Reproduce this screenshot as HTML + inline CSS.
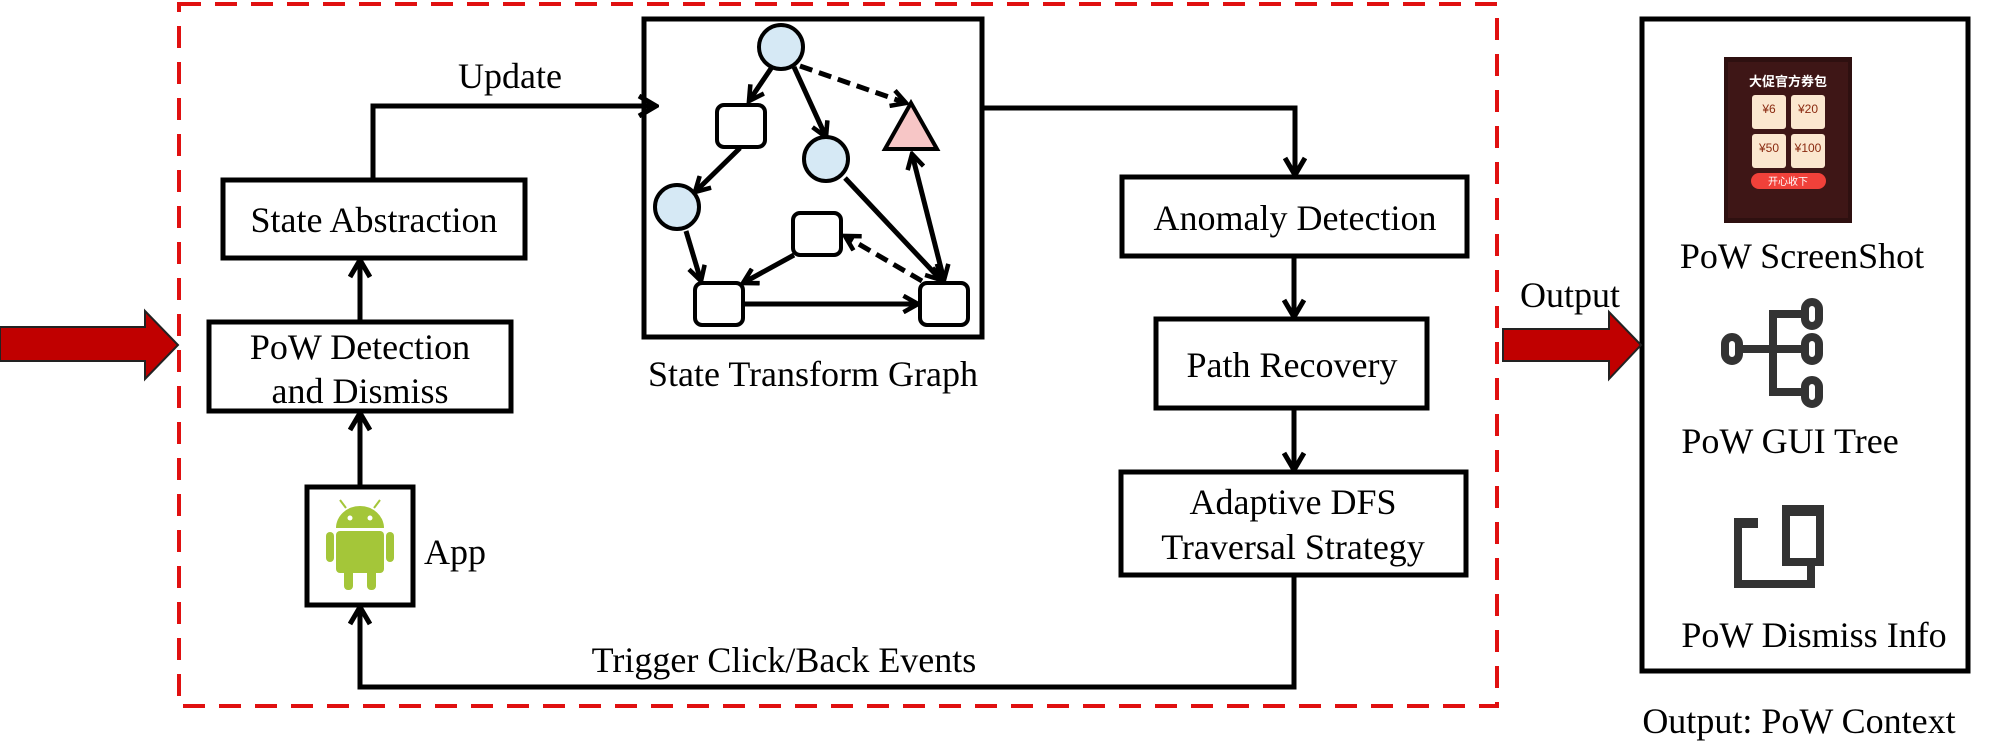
<!DOCTYPE html>
<html><head><meta charset="utf-8"><style>
html,body{margin:0;padding:0;background:#fff;}
svg{display:block;}
text{font-family:"Liberation Serif","Noto Serif CJK SC",serif;font-size:36px;fill:#000;}
</style></head><body>
<svg width="1989" height="753" viewBox="0 0 1989 753" xmlns="http://www.w3.org/2000/svg">
<defs>
<marker id="ah" viewBox="0 0 24 24" refX="21" refY="12" markerWidth="24" markerHeight="24" markerUnits="userSpaceOnUse" orient="auto-start-reverse">
<path d="M4,2 L21,12 L4,22" fill="none" stroke="#000" stroke-width="5"/>
</marker>
<marker id="ahs" viewBox="0 0 22 22" refX="19" refY="11" markerWidth="20" markerHeight="20" markerUnits="userSpaceOnUse" orient="auto-start-reverse">
<path d="M3,2 L19,11 L3,20" fill="none" stroke="#000" stroke-width="5"/>
</marker>
</defs>
<rect x="179" y="4" width="1318" height="702" fill="none" stroke="#e01010" stroke-width="4" stroke-dasharray="22,14"/>
<path d="M0,327 L145,327 L145,311 L178,345 L145,379 L145,361 L0,361 Z" fill="#c00000" stroke="#222" stroke-width="2"/>
<g fill="#fff" stroke="#000" stroke-width="5">
<rect x="223" y="180" width="302" height="78"/>
<rect x="209" y="322" width="302" height="89"/>
<rect x="307" y="487" width="106" height="118"/>
<rect x="644" y="19" width="338" height="318"/>
<rect x="1122" y="177" width="345" height="79"/>
<rect x="1156" y="319" width="271" height="89"/>
<rect x="1121" y="472" width="345" height="103"/>
<rect x="1642" y="19" width="326" height="652"/>
</g>
<text x="374" y="232" text-anchor="middle">State Abstraction</text>
<text x="360" y="359" text-anchor="middle">PoW Detection</text>
<text x="360" y="403" text-anchor="middle">and Dismiss</text>
<text x="424" y="564">App</text>
<text x="510" y="88" text-anchor="middle">Update</text>
<text x="813" y="386" text-anchor="middle">State Transform Graph</text>
<text x="1295" y="230" text-anchor="middle">Anomaly Detection</text>
<text x="1292" y="377" text-anchor="middle">Path Recovery</text>
<text x="1293" y="514" text-anchor="middle">Adaptive DFS</text>
<text x="1293" y="559" text-anchor="middle">Traversal Strategy</text>
<text x="784" y="672" text-anchor="middle">Trigger Click/Back Events</text>
<text x="1570" y="307" text-anchor="middle">Output</text>
<text x="1802" y="268" text-anchor="middle">PoW ScreenShot</text>
<text x="1790" y="453" text-anchor="middle">PoW GUI Tree</text>
<text x="1814" y="647" text-anchor="middle">PoW Dismiss Info</text>
<text x="1799" y="733" text-anchor="middle">Output: PoW Context</text>
<g fill="none" stroke="#000" stroke-width="5">
<path d="M360,322 L360,260" marker-end="url(#ah)"/>
<path d="M360,487 L360,413" marker-end="url(#ah)"/>
<path d="M373,180 L373,106 L656,106" marker-end="url(#ah)"/>
<path d="M982,108 L1295,108 L1295,175" marker-end="url(#ah)"/>
<path d="M1294,256 L1294,317" marker-end="url(#ah)"/>
<path d="M1294,408 L1294,470" marker-end="url(#ah)"/>
<path d="M1294,575 L1294,687 L360,687 L360,607" marker-end="url(#ah)"/>
</g>
<g fill="none" stroke="#000" stroke-width="5">
<path d="M772,67 L749,101" marker-end="url(#ahs)"/>
<path d="M794,67 L826,137" marker-end="url(#ahs)"/>
<path d="M800,66 L906,103" stroke-dasharray="13,7" marker-end="url(#ahs)"/>
<path d="M740,148 L695,192" marker-end="url(#ahs)"/>
<path d="M845,178 L941,280" marker-end="url(#ahs)"/>
<path d="M912,154 L944,280" marker-start="url(#ahs)" marker-end="url(#ahs)"/>
<path d="M922,281 L845,236" stroke-dasharray="13,7" marker-end="url(#ahs)"/>
<path d="M794,255 L743,283" marker-end="url(#ahs)"/>
<path d="M686,231 L701,281" marker-end="url(#ahs)"/>
<path d="M743,304 L918,304" marker-end="url(#ahs)"/>
</g>
<g stroke="#000" stroke-width="4">
<circle cx="781" cy="47" r="22" fill="#d6e9f5"/>
<circle cx="826" cy="159" r="22" fill="#d6e9f5"/>
<circle cx="677" cy="207" r="22" fill="#d6e9f5"/>
<rect x="717" y="105" width="48" height="42" rx="7" fill="#fff"/>
<rect x="793" y="213" width="48" height="42" rx="7" fill="#fff"/>
<rect x="695" y="283" width="48" height="42" rx="7" fill="#fff"/>
<rect x="920" y="283" width="48" height="42" rx="7" fill="#fff"/>
<path d="M911,103 L937,149 L885,149 Z" fill="#f7c6c6"/>
</g>
<g fill="#a4c639">
<path d="M336,528 a24,22 0 0 1 48,0 Z"/>
<rect x="336" y="531" width="48" height="42" rx="4"/>
<rect x="326" y="532" width="8" height="30" rx="4"/>
<rect x="386" y="532" width="8" height="30" rx="4"/>
<rect x="344" y="568" width="9" height="22" rx="4"/>
<rect x="367" y="568" width="9" height="22" rx="4"/>
<line x1="346" y1="508" x2="340" y2="500" stroke="#a4c639" stroke-width="2"/>
<line x1="374" y1="508" x2="380" y2="500" stroke="#a4c639" stroke-width="2"/>
</g>
<circle cx="350" cy="518" r="2.5" fill="#fff"/><circle cx="370" cy="518" r="2.5" fill="#fff"/>
<path d="M1503,329 L1609,329 L1609,312 L1641,345 L1609,379 L1609,361 L1503,361 Z" fill="#c00000" stroke="#222" stroke-width="2"/>
<rect x="1724" y="57" width="128" height="166" fill="#2e1010"/>
<rect x="1728" y="62" width="120" height="156" fill="#3e1616"/>
<text x="1788" y="86" text-anchor="middle" style="font-family:'Noto Sans CJK SC',sans-serif;font-size:13px;fill:#fff;font-weight:bold">大促官方券包</text>
<g fill="#fbe7cf">
<rect x="1752" y="95" width="34" height="34" rx="3"/><rect x="1791" y="95" width="34" height="34" rx="3"/>
<rect x="1752" y="134" width="34" height="34" rx="3"/><rect x="1791" y="134" width="34" height="34" rx="3"/>
</g>
<text x="1769" y="113" text-anchor="middle" style="font-family:'Liberation Sans',sans-serif;font-size:12px;fill:#8a2a10">¥6</text>
<text x="1808" y="113" text-anchor="middle" style="font-family:'Liberation Sans',sans-serif;font-size:12px;fill:#8a2a10">¥20</text>
<text x="1769" y="152" text-anchor="middle" style="font-family:'Liberation Sans',sans-serif;font-size:12px;fill:#8a2a10">¥50</text>
<text x="1808" y="152" text-anchor="middle" style="font-family:'Liberation Sans',sans-serif;font-size:12px;fill:#8a2a10">¥100</text>
<rect x="1751" y="173" width="75" height="16" rx="8" fill="#f0413a"/>
<text x="1788" y="185" text-anchor="middle" style="font-family:'Noto Sans CJK SC',sans-serif;font-size:10px;fill:#fff">开心收下</text>
<g fill="none" stroke="#333" stroke-width="8">
<rect x="1725" y="337" width="14" height="24" rx="7"/>
<rect x="1805" y="302" width="14" height="24" rx="7"/>
<rect x="1805" y="337" width="14" height="24" rx="7"/>
<rect x="1805" y="380" width="14" height="24" rx="7"/>
<path d="M1739,349 L1790,349 M1801,314 L1773,314 L1773,392 L1801,392 M1773,349 L1801,349"/>
</g>
<g fill="none" stroke="#333" stroke-width="8">
<path d="M1752,524 L1738,524 L1738,584 L1811,584 L1811,566"/>
<rect x="1786" y="510" width="34" height="52"/>
</g>
<rect x="1734" y="518" width="24" height="10" fill="#333"/>
<rect x="1782" y="505" width="42" height="11" fill="#333"/>
</svg>
</body></html>
